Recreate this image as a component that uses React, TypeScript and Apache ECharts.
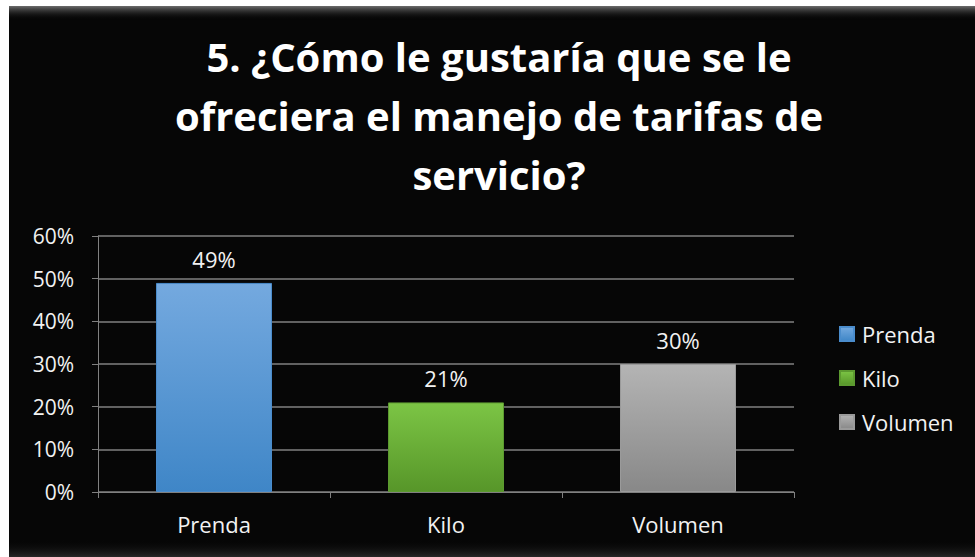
import React, { useEffect, useRef } from "react";
import * as echarts from "echarts";

const categories = ["Prenda", "Kilo", "Volumen"];
const values = [49, 21, 30];
const yTicks = [0, 10, 20, 30, 40, 50, 60];
const titleLines = ["5. ¿Cómo le gustaría que se le", "ofreciera el manejo de tarifas de", "servicio?"];

const colorStops = [
  ["#74a9df", "#3f86c7"],
  ["#7cc545", "#579629"],
  ["#b4b4b4", "#888888"],
];
const borderColors = ["#4a8ccc", "#5c9a30", "#9a9a9a"];

export default function App() {
  const ref = useRef<HTMLDivElement>(null);
  useEffect(() => {
    if (!ref.current) return;
    const chart = echarts.init(ref.current, undefined, { renderer: "svg" });
    const font = "'Open Sans', 'Noto Sans', sans-serif";
    const series = categories.map((name, i) => ({
      name,
      type: "bar",
      stack: "all",
      barWidth: "50%",
      data: categories.map((_, j) => (j === i ? values[i] : "-")),
      itemStyle: {
        color: new echarts.graphic.LinearGradient(0, 0, 0, 1, [
          { offset: 0, color: colorStops[i][0] },
          { offset: 1, color: colorStops[i][1] },
        ]),
        borderColor: borderColors[i],
        borderWidth: 1,
      },
      label: {
        show: true,
        position: "top",
        distance: 13,
        color: "#f2f2f2",
        fontFamily: font,
        fontSize: 22,
        formatter: (p: any) => p.value + "%",
      },
    }));
    chart.setOption({
      animation: false,
      backgroundColor: "#ffffff",
      graphic: [
        { type: "rect", shape: { x: 9, y: 6, width: 966, height: 551 }, style: { fill: "#060606" }, z: -10 },
        {
          type: "rect",
          shape: { x: 9, y: 6, width: 966, height: 14 },
          style: {
            fill: new echarts.graphic.LinearGradient(0, 0, 0, 1, [
              { offset: 0, color: "rgba(120,120,120,0.9)" },
              { offset: 1, color: "rgba(6,6,6,0)" },
            ]),
          },
          z: -9,
        },
        {
          type: "rect",
          shape: { x: 9, y: 540, width: 966, height: 17 },
          style: {
            fill: new echarts.graphic.LinearGradient(0, 0, 0, 1, [
              { offset: 0, color: "rgba(6,6,6,0)" },
              { offset: 1, color: "rgba(40,40,40,1)" },
            ]),
          },
          z: -9,
        },
      ],
      title: {
        text: titleLines.join("\n"),
        left: 494,
        textAlign: "center",
        top: 22,
        textStyle: {
          color: "#ffffff",
          fontFamily: font,
          fontWeight: "bold",
          fontSize: 40,
          lineHeight: 59,
        },
      },
      legend: {
        orient: "vertical",
        left: 834,
        top: 318,
        itemWidth: 14,
        itemHeight: 14,
        itemGap: 22,
        icon: "rect",
        textStyle: { color: "#f2f2f2", fontFamily: font, fontSize: 22, padding: [0, 0, 0, 3] },
        data: categories,
      },
      grid: { left: 98, right: 181, top: 236, bottom: 65 },
      xAxis: {
        type: "category",
        data: categories,
        axisLine: { lineStyle: { color: "#808080", width: 1 } },
        axisTick: { show: true, length: 6, lineStyle: { color: "#808080" } },
        axisLabel: { color: "#f2f2f2", fontFamily: font, fontSize: 22, margin: 21 },
      },
      yAxis: {
        type: "value",
        min: yTicks[0],
        max: yTicks[yTicks.length - 1],
        interval: 10,
        axisLine: { show: true, lineStyle: { color: "#808080", width: 1 } },
        axisTick: { show: true, length: 6, lineStyle: { color: "#808080" } },
        splitLine: { lineStyle: { color: "#808080", width: 1.5 } },
        axisLabel: { color: "#f2f2f2", fontFamily: font, fontSize: 21, margin: 24, formatter: "{value}%" },
      },
      series,
    });
    return () => chart.dispose();
  }, []);
  return <div ref={ref} style={{ position: "absolute", left: 0, top: 0, width: 975, height: 557 }} />;
}
